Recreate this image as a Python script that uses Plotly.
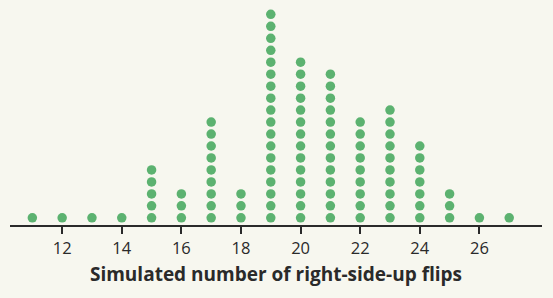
import plotly.graph_objects as go

values = [11, 12, 13, 14, 15, 16, 17, 18, 19, 20, 21, 22, 23, 24, 25, 26, 27]
counts = [1, 1, 1, 1, 5, 3, 9, 3, 18, 14, 13, 9, 10, 7, 3, 1, 1]
tick_vals = [12, 14, 16, 18, 20, 22, 24, 26]
x_title = "Simulated number of right-side-up flips"

xs, ys = [], []
for v, c in zip(values, counts):
    for k in range(1, c + 1):
        xs.append(v)
        ys.append(k)

fig = go.Figure(go.Scatter(
    x=xs, y=ys, mode="markers",
    marker=dict(size=9.5, color="#5cb270", line=dict(width=0)),
    hoverinfo="skip",
))

bg = "#f7f7ef"
fig.update_layout(
    width=553, height=298,
    margin=dict(l=10, r=11, t=0, b=73),
    paper_bgcolor=bg, plot_bgcolor=bg,
    showlegend=False,
    font=dict(family="Open Sans, sans-serif", color="#2a2a2a"),
    xaxis=dict(
        range=[10.25, 28.1],
        tickvals=tick_vals,
        ticks="outside", ticklen=7, tickwidth=2, tickcolor="#2a2a2a",
        showline=True, linecolor="#2a2a2a", linewidth=2,
        showgrid=False, zeroline=False,
        tickfont=dict(size=16.5, color="#2a2a2a"),
        title=dict(text="<b>" + x_title + "</b>", font=dict(size=19, color="#2a2a2a"), standoff=10),
    ),
    yaxis=dict(
        range=[0.4, 19.2],
        visible=False, showgrid=False, zeroline=False,
    ),
)

fig.write_html("out.html")
